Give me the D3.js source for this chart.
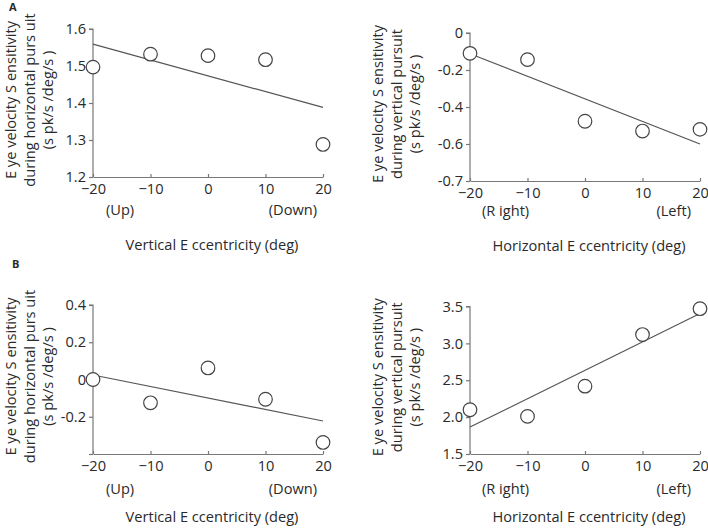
<!DOCTYPE html>
<html><head><meta charset="utf-8">
<script src="https://cdn.jsdelivr.net/npm/d3@7"></script>
<style>
body{margin:0;background:#fff;}
text{font-family:"Open Sans",sans-serif;fill:#2a2a2a;}
</style></head>
<body><svg id="c" width="708" height="529"></svg>
<script>
// ---------- data ----------
const eccentricity = [-20, -10, 0, 10, 20];
const xTickValues = [-20, -10, 0, 10, 20];

const sensAVertical = [1.497, 1.532, 1.528, 1.517, 1.288];
const fitAVertical = [1.559, 1.388];
const yTicksAVertical = [1.2, 1.3, 1.4, 1.5, 1.6];
const yLabelsAVertical = ["1.2", "1.3", "1.4", "1.5", "1.6"];

const sensAHorizontal = [-0.110, -0.144, -0.477, -0.530, -0.521];
const fitAHorizontal = [-0.112, -0.600];
const yTicksAHorizontal = [-0.8, -0.6, -0.4, -0.2, 0];
const yLabelsAHorizontal = ["-0.7", "-0.6", "-0.4", "-0.2", "0"];

const sensBVertical = [0.0, -0.125, 0.062, -0.106, -0.338];
const fitBVertical = [0.024, -0.223];
const yTicksBVertical = [-0.4, -0.2, 0, 0.2, 0.4];
const yLabelsBVertical = ["", "-0.2", "0", "0.2", "0.4"];

const sensBHorizontal = [2.10, 2.01, 2.42, 3.12, 3.47];
const fitBHorizontal = [1.865, 3.405];
const yTicksBHorizontal = [1.5, 2.0, 2.5, 3.0, 3.5];
const yLabelsBHorizontal = ["1.5", "2.0", "2.5", "3.0", "3.5"];

const yTitleHorizPursuit = ["E ye velocity S ensitivity", "during horizontal purs uit", "(s pk/s /deg/s )"];
const yTitleVertPursuit = ["E ye velocity S ensitivity", "during vertical pursuit", "(s pk/s /deg/s )"];
const xTitleVertical = "Vertical E ccentricity (deg)";
const xTitleHorizontal = "Horizontal E ccentricity (deg)";
const dirVertical = ["(Up)", "(Down)"];
const dirHorizontal = ["(R ight)", "(Left)"];

// ---------- drawing ----------
const svg = d3.select("#c");
const FS = 14.6;
const axisColor = "#777";

function panel(cfg) {
  const x = d3.scaleLinear().domain([-20, 20]).range([cfg.x0, cfg.x1]);
  const y = d3.scaleLinear().domain(cfg.domain).range([cfg.yb, cfg.yt]);
  const g = svg.append("g");

  const ya = g.append("g").attr("transform", `translate(${cfg.x0},0)`)
    .call(d3.axisLeft(y).tickValues(cfg.yTicks).tickSize(4).tickPadding(3)
      .tickFormat((d, i) => cfg.yLabels[i]));
  const xa = g.append("g").attr("transform", `translate(0,${cfg.yb})`)
    .call(d3.axisBottom(x).tickValues(xTickValues).tickSizeInner(-3).tickSizeOuter(0).tickPadding(5)
      .tickFormat(d3.format("d")));
  [ya, xa].forEach(a => {
    a.selectAll("path").attr("stroke", axisColor).attr("stroke-width", 1.2);
    a.selectAll("line").attr("stroke", axisColor).attr("stroke-width", 1.2);
    a.selectAll("text").attr("font-size", FS).attr("font-family", '"Open Sans",sans-serif').attr("fill", "#2a2a2a");
  });
  ya.select(".domain").attr("d", `M-4,${cfg.yt}H0V${cfg.yb}`);
  xa.selectAll("text").attr("dy", "0.85em");

  g.append("line")
    .attr("x1", x(-20)).attr("y1", y(cfg.fit[0]))
    .attr("x2", x(20)).attr("y2", y(cfg.fit[1]))
    .attr("stroke", "#555").attr("stroke-width", 1.2);

  g.selectAll("circle.pt").data(eccentricity).join("circle")
    .attr("class", "pt")
    .attr("cx", d => x(d)).attr("cy", (d, i) => y(cfg.values[i]))
    .attr("r", 6.8).attr("fill", "#fff").attr("stroke", "#444").attr("stroke-width", 1.2);

  g.append("text").attr("x", x(-20) + cfg.dirL).attr("y", cfg.yb + cfg.dirDy)
    .attr("font-size", FS).attr("text-anchor", "start").text(cfg.dirs[0]);
  g.append("text").attr("x", x(20) - cfg.dirR).attr("y", cfg.yb + cfg.dirDy)
    .attr("font-size", FS).attr("text-anchor", "end").text(cfg.dirs[1]);

  g.append("text").attr("x", (cfg.x0 + cfg.x1) / 2 + 4).attr("y", cfg.yb + cfg.titleDy)
    .attr("font-size", FS).attr("text-anchor", "middle").text(cfg.xTitle);

  const cy = (cfg.yt + cfg.yb) / 2 - 3;
  cfg.yTitle.forEach((t, i) => {
    g.append("text")
      .attr("transform", `translate(${cfg.ytx + i * 18.5},${cy}) rotate(-90)`)
      .attr("font-size", FS).attr("text-anchor", "middle").attr("dy", "0.35em").text(t);
  });
}

panel({x0: 93, x1: 323, yt: 29, yb: 177, domain: [1.2, 1.6], yTicks: yTicksAVertical, yLabels: yLabelsAVertical,
  values: sensAVertical, fit: fitAVertical, dirs: dirVertical, dirL: 13, dirR: 6, dirDy: 38, titleDy: 73,
  xTitle: xTitleVertical, yTitle: yTitleHorizPursuit, ytx: 11});
panel({x0: 470, x1: 700, yt: 33, yb: 181, domain: [-0.8, 0], yTicks: yTicksAHorizontal, yLabels: yLabelsAHorizontal,
  values: sensAHorizontal, fit: fitAHorizontal, dirs: dirHorizontal, dirL: 12, dirR: 9, dirDy: 35, titleDy: 70,
  xTitle: xTitleHorizontal, yTitle: yTitleVertPursuit, ytx: 378});
panel({x0: 93, x1: 323, yt: 305, yb: 454, domain: [-0.4, 0.4], yTicks: yTicksBVertical, yLabels: yLabelsBVertical,
  values: sensBVertical, fit: fitBVertical, dirs: dirVertical, dirL: 13, dirR: 6, dirDy: 40, titleDy: 68,
  xTitle: xTitleVertical, yTitle: yTitleHorizPursuit, ytx: 11});
panel({x0: 470, x1: 700, yt: 306.5, yb: 454, domain: [1.5, 3.5], yTicks: yTicksBHorizontal, yLabels: yLabelsBHorizontal,
  values: sensBHorizontal, fit: fitBHorizontal, dirs: dirHorizontal, dirL: 12, dirR: 9, dirDy: 40, titleDy: 68,
  xTitle: xTitleHorizontal, yTitle: yTitleVertPursuit, ytx: 378});

svg.append("text").attr("x", 9).attr("y", 11).attr("font-size", 11).attr("font-weight", "bold")
  .attr("font-family", "Arial, Liberation Sans, sans-serif").text("A");
svg.append("text").attr("x", 12).attr("y", 268).attr("font-size", 11).attr("font-weight", "bold")
  .attr("font-family", "Arial, Liberation Sans, sans-serif").text("B");
</script></body></html>
